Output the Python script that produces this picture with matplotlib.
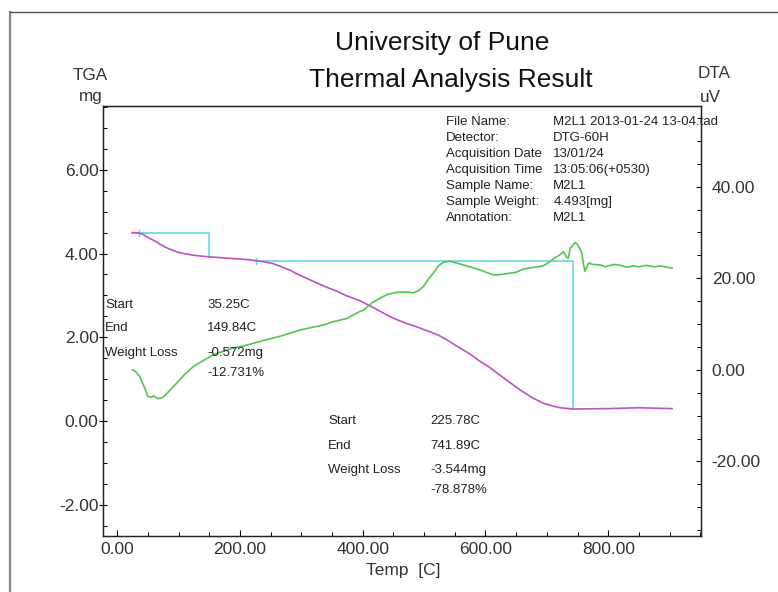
import matplotlib
matplotlib.use('Agg')
import matplotlib.pyplot as plt
from matplotlib.lines import Line2D
from matplotlib.ticker import MultipleLocator, FormatStrFormatter

# TGA curve (temperature C, mass mg)
tga_temp = [25, 35, 42, 48, 56, 64, 70, 80, 90, 97, 102, 112, 124, 135, 150,
            170, 189, 210, 226, 240, 254, 265, 282, 292, 310, 325, 336, 358,
            374, 396, 412, 430, 445, 461, 472, 490, 510, 525, 537, 558, 575,
            590, 607, 618, 637, 656, 675, 694, 710, 722, 742, 800, 849, 904]
tga_mass = [4.50, 4.49, 4.46, 4.40, 4.34, 4.28, 4.22, 4.14, 4.08, 4.04, 4.02,
            3.99, 3.96, 3.94, 3.92, 3.90, 3.88, 3.86, 3.83, 3.80, 3.76, 3.70,
            3.60, 3.52, 3.40, 3.30, 3.23, 3.10, 2.99, 2.87, 2.75, 2.61, 2.49,
            2.39, 2.33, 2.24, 2.13, 2.04, 1.94, 1.75, 1.60, 1.44, 1.28, 1.16,
            0.95, 0.75, 0.57, 0.43, 0.36, 0.32, 0.29, 0.30, 0.32, 0.30]

# DTA curve (temperature C, signal uV)
dta_temp = [25, 30, 37, 45, 50, 55, 59, 63, 67, 75, 85, 97, 110, 124, 140,
            157, 180, 200, 206, 244, 265, 298, 336, 352, 374, 396, 401, 417,
            439, 455, 470, 483, 490, 499, 508, 515, 524, 532, 542, 553, 564,
            591, 613, 625, 635, 650, 662, 680, 694, 705, 711, 720, 727, 732,
            735, 738, 741, 746, 749, 753, 757, 759, 762, 765, 768, 775, 787,
            795, 800, 810, 820, 830, 841, 850, 862, 874, 885, 895, 904]
dta_uv = [0.0, -0.4, -1.5, -4.0, -5.8, -6.0, -5.7, -6.0, -6.3, -6.0, -4.6,
          -2.9, -1.0, 0.7, 2.0, 3.3, 4.4, 5.1, 5.2, 6.6, 7.3, 8.7, 9.8, 10.5,
          11.2, 12.8, 13.0, 14.8, 16.4, 16.9, 17.0, 16.8, 17.2, 18.2, 20.0,
          21.1, 22.8, 23.5, 23.7, 23.3, 22.9, 21.8, 20.7, 20.8, 21.0, 21.3,
          22.0, 22.4, 22.7, 23.6, 24.3, 25.0, 25.8, 24.6, 24.4, 26.6, 27.0,
          27.8, 27.5, 26.6, 25.5, 23.5, 21.5, 22.5, 23.3, 23.0, 22.9, 22.5,
          22.7, 23.0, 22.8, 22.4, 22.7, 22.5, 22.8, 22.5, 22.7, 22.4, 22.2]

# weight loss steps: (line start, step start, step end, start mass, loss)
steps = [(25, 35.25, 149.84, 4.493, 0.572),
         (225.78, 225.78, 741.89, 3.83, 3.544)]
step_labels = [("35.25C", "149.84C", "-0.572mg", "-12.731%"),
               ("225.78C", "741.89C", "-3.544mg", "-78.878%")]

info_keys = ["File Name:", "Detector:", "Acquisition Date", "Acquisition Time",
             "Sample Name:", "Sample Weight:", "Annotation:"]
info_vals = ["M2L1 2013-01-24 13-04.tad", "DTG-60H", "13/01/24",
             "13:05:06(+0530)", "M2L1", "4.493[mg]", "M2L1"]

W, H = 778, 592
plt.rcParams['font.family'] = ['Liberation Sans', 'DejaVu Sans']


def px(x, y):
    return x / W, 1 - y / H


fig = plt.figure(figsize=(W / 100, H / 100), dpi=100)
fig.patch.set_facecolor('white')

# outer frame of the report
fig.add_artist(Line2D([10 / W, 10 / W], [0, 1 - 12 / H], color='#888888', lw=1.6))
fig.add_artist(Line2D([10 / W, 1], [1 - 12 / H, 1 - 12 / H], color='#444444', lw=0.9))

ax = fig.add_axes([103 / W, 1 - 535.6 / H, 598 / W, 429.6 / H])
ax2 = ax.twinx()

mag = '#c050c8'
grn = '#4ec84e'
cyan = '#5fd8e2'

ax.plot(tga_temp, tga_mass, color=mag, lw=1.2, zorder=3)
ax2.plot(dta_temp, dta_uv, color=grn, lw=1.2, zorder=3)

for t0, ts, te, m0, loss in steps:
    ax.plot([t0, te, te], [m0, m0, m0 - loss], color=cyan, lw=1.2, zorder=2)
    ax.plot([ts, ts], [m0 - 0.08, m0 + 0.06], color=cyan, lw=1.0, zorder=2)

ax.set_xlim(-23, 951)
ax.set_ylim(-2.73, 7.52)
ax2.set_ylim(-36.2, 57.6)

ax.xaxis.set_major_locator(MultipleLocator(200))
ax.xaxis.set_minor_locator(MultipleLocator(50))
ax.yaxis.set_major_locator(MultipleLocator(2))
ax.yaxis.set_minor_locator(MultipleLocator(0.5))
ax2.yaxis.set_major_locator(MultipleLocator(20))
ax2.yaxis.set_minor_locator(MultipleLocator(5))
for a in (ax.xaxis, ax.yaxis, ax2.yaxis):
    a.set_major_formatter(FormatStrFormatter('%.2f'))

tc = '#333333'
ax.tick_params(axis='x', which='major', direction='in', length=4.3, width=0.8,
               pad=4.3, labelsize=12.5, labelcolor=tc, top=False)
ax.tick_params(axis='x', which='minor', direction='in', length=3, width=0.7,
               top=False)
ax.tick_params(axis='y', which='major', direction='inout', length=5.8,
               width=0.8, pad=0.3, labelsize=12.5, labelcolor=tc)
ax.tick_params(axis='y', which='minor', direction='in', length=2.8, width=0.7)
ax2.tick_params(axis='y', which='major', direction='in', length=3.6, width=0.8,
                pad=7.7, labelsize=12.5, labelcolor=tc)
ax2.tick_params(axis='y', which='minor', direction='in', length=3.2, width=0.7)

for a in (ax, ax2):
    for s in a.spines.values():
        s.set_linewidth(0.9)
        s.set_color('#222222')

# titles and axis captions
fig.text(*px(442, 43), "University of Pune", ha='center', va='center',
         fontsize=19, color='#111111')
fig.text(*px(451, 80), "Thermal Analysis Result", ha='center', va='center',
         fontsize=19, color='#111111')
fig.text(*px(90, 75), "TGA", ha='center', va='center', fontsize=12.3, color=tc)
fig.text(*px(90.7, 97), "mg", ha='center', va='center', fontsize=12.3, color=tc)
fig.text(*px(714.5, 74), "DTA", ha='center', va='center', fontsize=12.3, color=tc)
fig.text(*px(710, 97), "uV", ha='center', va='center', fontsize=12.3, color=tc)
fig.text(*px(403, 570), "Temp  [C]", ha='center', va='center', fontsize=12.5,
         color=tc)

# info block
for i, (k, v) in enumerate(zip(info_keys, info_vals)):
    y = 121.7 + i * 16.1
    fig.text(*px(446, y), k, ha='left', va='center', fontsize=9.5, color='#222222')
    fig.text(*px(553.3, y), v, ha='left', va='center', fontsize=9.5, color='#222222')

# step annotations
blocks = [((105, 207.3), (305, 328.3, 353.3, 373.3)),
          ((328.3, 430), (421, 445.7, 470, 490))]
for ((xk, xv), ys), vals in zip(blocks, step_labels):
    for name, y in zip(["Start", "End", "Weight Loss"], ys[:3]):
        fig.text(*px(xk, y), name, ha='left', va='center', fontsize=9.5,
                 color='#222222')
    for v, y in zip(vals, ys):
        fig.text(*px(xv, y), v, ha='left', va='center', fontsize=9.5,
                 color='#222222')

fig.savefig('out.png', dpi=100)
